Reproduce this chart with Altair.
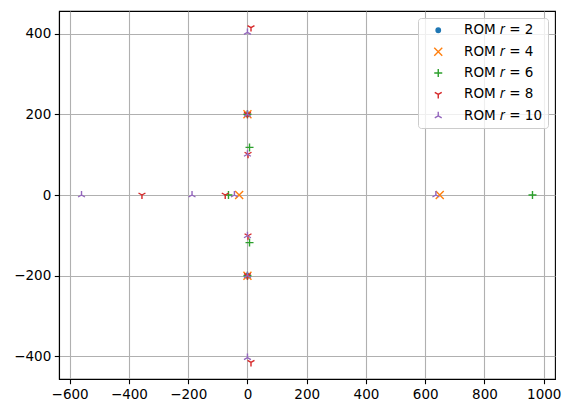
import altair as alt
import pandas as pd

series_names = ["ROM 𝑟 = 2", "ROM 𝑟 = 4", "ROM 𝑟 = 6", "ROM 𝑟 = 8", "ROM 𝑟 = 10"]
colors = ["#1f77b4", "#ff7f0e", "#2ca02c", "#d62728", "#9467bd"]

r2_re = [0, 0]
r2_im = [200, -200]
r4_re = [0, 0, -28, 649]
r4_im = [200, -200, 0, 0]
r6_re = [0, 0, 7, 7, -64, 962]
r6_im = [200, -200, 118, -118, 0, 0]
r8_re = [0, 0, 2, 2, 12, 12, -356, -75]
r8_im = [200, -200, 101, -101, 415, -415, 0, 0]
r10_re = [0, 0, 0, 0, 0, 0, -560, -187, -44, 636]
r10_im = [403, -403, 200, -200, 101, -101, 0, 0, 0, 0]

x_ticks = [-600, -400, -200, 0, 200, 400, 600, 800, 1000]
y_ticks = [-400, -200, 0, 200, 400]

rows = []
for name, res, ims in zip(series_names,
                          [r2_re, r4_re, r6_re, r8_re, r10_re],
                          [r2_im, r4_im, r6_im, r8_im, r10_im]):
    for a, b in zip(res, ims):
        rows.append({"series": name, "re": a, "im": b})
df = pd.DataFrame(rows)
df["idx"] = range(len(df))

shapes = [
    "M-0.55,0A0.55,0.55,0,1,1,0.55,0A0.55,0.55,0,1,1,-0.55,0Z",
    "M-1,-1L1,1M1,-1L-1,1",
    "M-1,0L1,0M0,-1L0,1",
    "M0,0L0,1M0,0L-0.866,-0.5M0,0L0.866,-0.5",
    "M0,0L0,-1M0,0L-0.866,0.5M0,0L0.866,0.5",
]
fills = [colors[0], "transparent", "transparent", "transparent", "transparent"]

minus = "replace(datum.label, '-', '\u2212')"
axis_common = dict(
    grid=True, gridColor="#b0b0b0", gridWidth=1.1,
    domainColor="black", domainWidth=1.1,
    tickColor="black", tickWidth=1.1, tickSize=4.7,
    labelFont="DejaVu Sans", labelFontSize=13.5, labelColor="black",
    labelExpr=minus, format="d",
)

leg = alt.Legend(
    title=None, orient="top-right", offset=7,
    labelFont="DejaVu Sans", labelFontSize=13.5, labelColor="black",
    symbolSize=64, symbolStrokeWidth=1.4, symbolOpacity=1,
    symbolOffset=8, labelOffset=19, rowPadding=6.4,
    padding=5.5, strokeColor="#cccccc", cornerRadius=3,
    fillColor="rgba(255,255,255,0.8)",
)

chart = alt.Chart(df).mark_point(filled=False, size=64, strokeWidth=1.4, opacity=1).encode(
    x=alt.X("re:Q", title="", scale=alt.Scale(domain=[-636, 1038], nice=False, zero=False),
            axis=alt.Axis(values=x_ticks, labelPadding=3.5, **axis_common)),
    y=alt.Y("im:Q", title="", scale=alt.Scale(domain=[-456, 456], nice=False, zero=False),
            axis=alt.Axis(values=y_ticks, labelPadding=3.5, **axis_common)),
    stroke=alt.Stroke("series:N", scale=alt.Scale(domain=series_names, range=colors), legend=leg),
    fill=alt.Fill("series:N", scale=alt.Scale(domain=series_names, range=fills), legend=leg),
    shape=alt.Shape("series:N", scale=alt.Scale(domain=series_names, range=shapes), legend=leg),
    order=alt.Order("idx:Q"),
).properties(
    width=496, height=368,
    autosize=alt.AutoSizeParams(type="none"),
    padding={"left": 51, "top": 3, "right": 8, "bottom": 26},
).configure_view(stroke="black", strokeWidth=1.1)

chart.save("out.html", embed_options={"renderer": "svg", "actions": False})
